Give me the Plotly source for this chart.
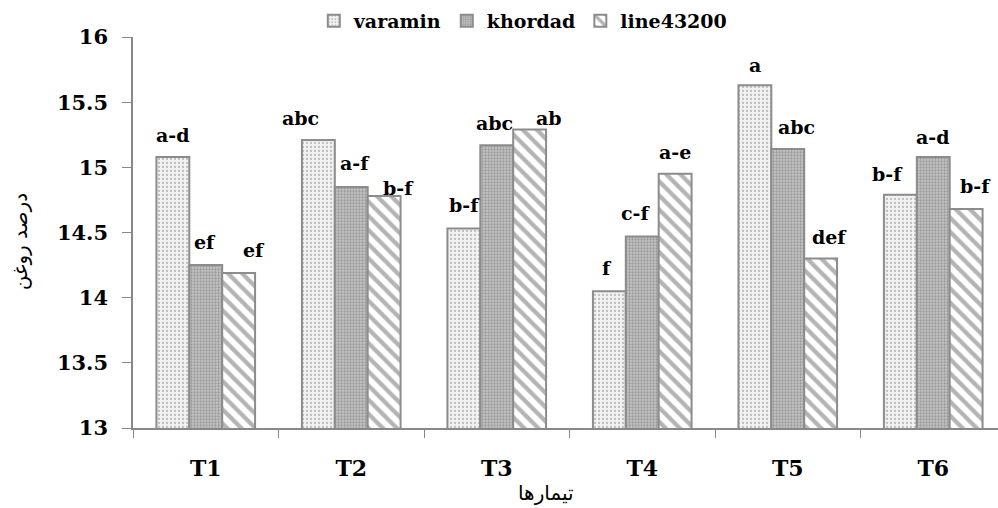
import plotly.graph_objects as go

categories = ["T1", "T2", "T3", "T4", "T5", "T6"]
series_names = ["varamin", "khordad", "line43200"]
varamin = [15.08, 15.21, 14.53, 14.05, 15.63, 14.79]
khordad = [14.25, 14.85, 15.17, 14.47, 15.14, 15.08]
line43200 = [14.19, 14.78, 15.29, 14.95, 14.30, 14.68]
letters_varamin = ["a-d", "abc", "b-f", "f", "a", "b-f"]
letters_khordad = ["ef", "a-f", "abc", "c-f", "abc", "a-d"]
letters_line = ["ef", "b-f", "ab", "a-e", "def", "b-f"]
y_ticks = [13, 13.5, 14, 14.5, 15, 15.5, 16]
y_title = "درصد روغن"
x_title = "تیمارها"

values = [varamin, khordad, line43200]
letters = [letters_varamin, letters_khordad, letters_line]

SERIF = "DejaVu Serif"
ARABIC = "DejaVu Sans"
styles = [
    dict(shape=".", fgcolor="#8a8a8a", bgcolor="#f2f2f2", size=4, solidity=0.25),
    dict(shape=".", fgcolor="#6e6e6e", bgcolor="#c4c4c4", size=3, solidity=0.45),
    dict(shape="\\", fgcolor="#6a6a6a", bgcolor="#ffffff", size=10, solidity=0.42),
]
label_dx = [[0, -18, 1, -2, 0, -13],
            [-1, 4, -2, -7, 9, -1],
            [15, 14, 19, 0, 9, 9]]
label_dy = [[22, 22, 24, 23, 20, 21],
            [23, 24, 22, 23, 22, 20],
            [23, 8, 12, 22, 22, 23]]
BARGAP = 0.322

fig = go.Figure()
for name, vals, st in zip(series_names, values, styles):
    fig.add_trace(go.Bar(
        name=name, x=categories, y=vals,
        marker=dict(color=st["bgcolor"], pattern=st,
                    line=dict(color="#8c8c8c", width=2)),
    ))

bw = (1 - BARGAP) / len(series_names)
ann = []
for j, (labs, vals) in enumerate(zip(letters, values)):
    for i, (lab, v) in enumerate(zip(labs, vals)):
        ann.append(dict(
            x=i + (j - 1) * bw, y=v, xref="x", yref="y", text=lab,
            showarrow=False, xanchor="center", yanchor="middle",
            xshift=label_dx[j][i], yshift=label_dy[j][i],
            font=dict(family=SERIF, size=19, color="black", weight="bold"),
        ))
ann.append(dict(x=-0.1306, y=0.475, xref="paper", yref="paper", text=y_title,
                textangle=-90, showarrow=False, xanchor="center", yanchor="middle",
                font=dict(family=ARABIC, size=20, color="black")))
ann.append(dict(x=0.478, y=-0.165, xref="paper", yref="paper", text=x_title,
                showarrow=False, xanchor="center", yanchor="middle",
                font=dict(family=ARABIC, size=20, color="black")))

fig.update_layout(
    width=998, height=508,
    margin=dict(l=133, r=0, t=36.5, b=79.5, pad=0),
    paper_bgcolor="white", plot_bgcolor="white",
    barmode="group", bargap=BARGAP, bargroupgap=0,
    showlegend=True,
    legend=dict(orientation="h", x=0.209, y=1.09, xanchor="left", yanchor="top",
                bgcolor="rgba(0,0,0,0)",
                font=dict(family=SERIF, size=19, color="black", weight="bold"),
                itemwidth=30, traceorder="normal"),
    annotations=ann,
    xaxis=dict(range=[-0.5, 5.445], showline=True, linecolor="#888888", linewidth=1.5,
               ticks="outside", tickson="boundaries", ticklen=8, tickcolor="#888888",
               tickfont=dict(family=SERIF, size=22, color="black", weight="bold"),
               showgrid=False, zeroline=False, ticklabelstandoff=20),
    yaxis=dict(range=[13, 16], tickvals=y_ticks, ticktext=[f"{t:g}" for t in y_ticks],
               showline=True, linecolor="#888888", linewidth=1.5,
               ticks="outside", ticklen=9, tickcolor="#888888",
               tickfont=dict(family=SERIF, size=21, color="black", weight="bold"),
               showgrid=False, zeroline=False, ticklabelstandoff=10),
)

fig.write_html("out.html")
